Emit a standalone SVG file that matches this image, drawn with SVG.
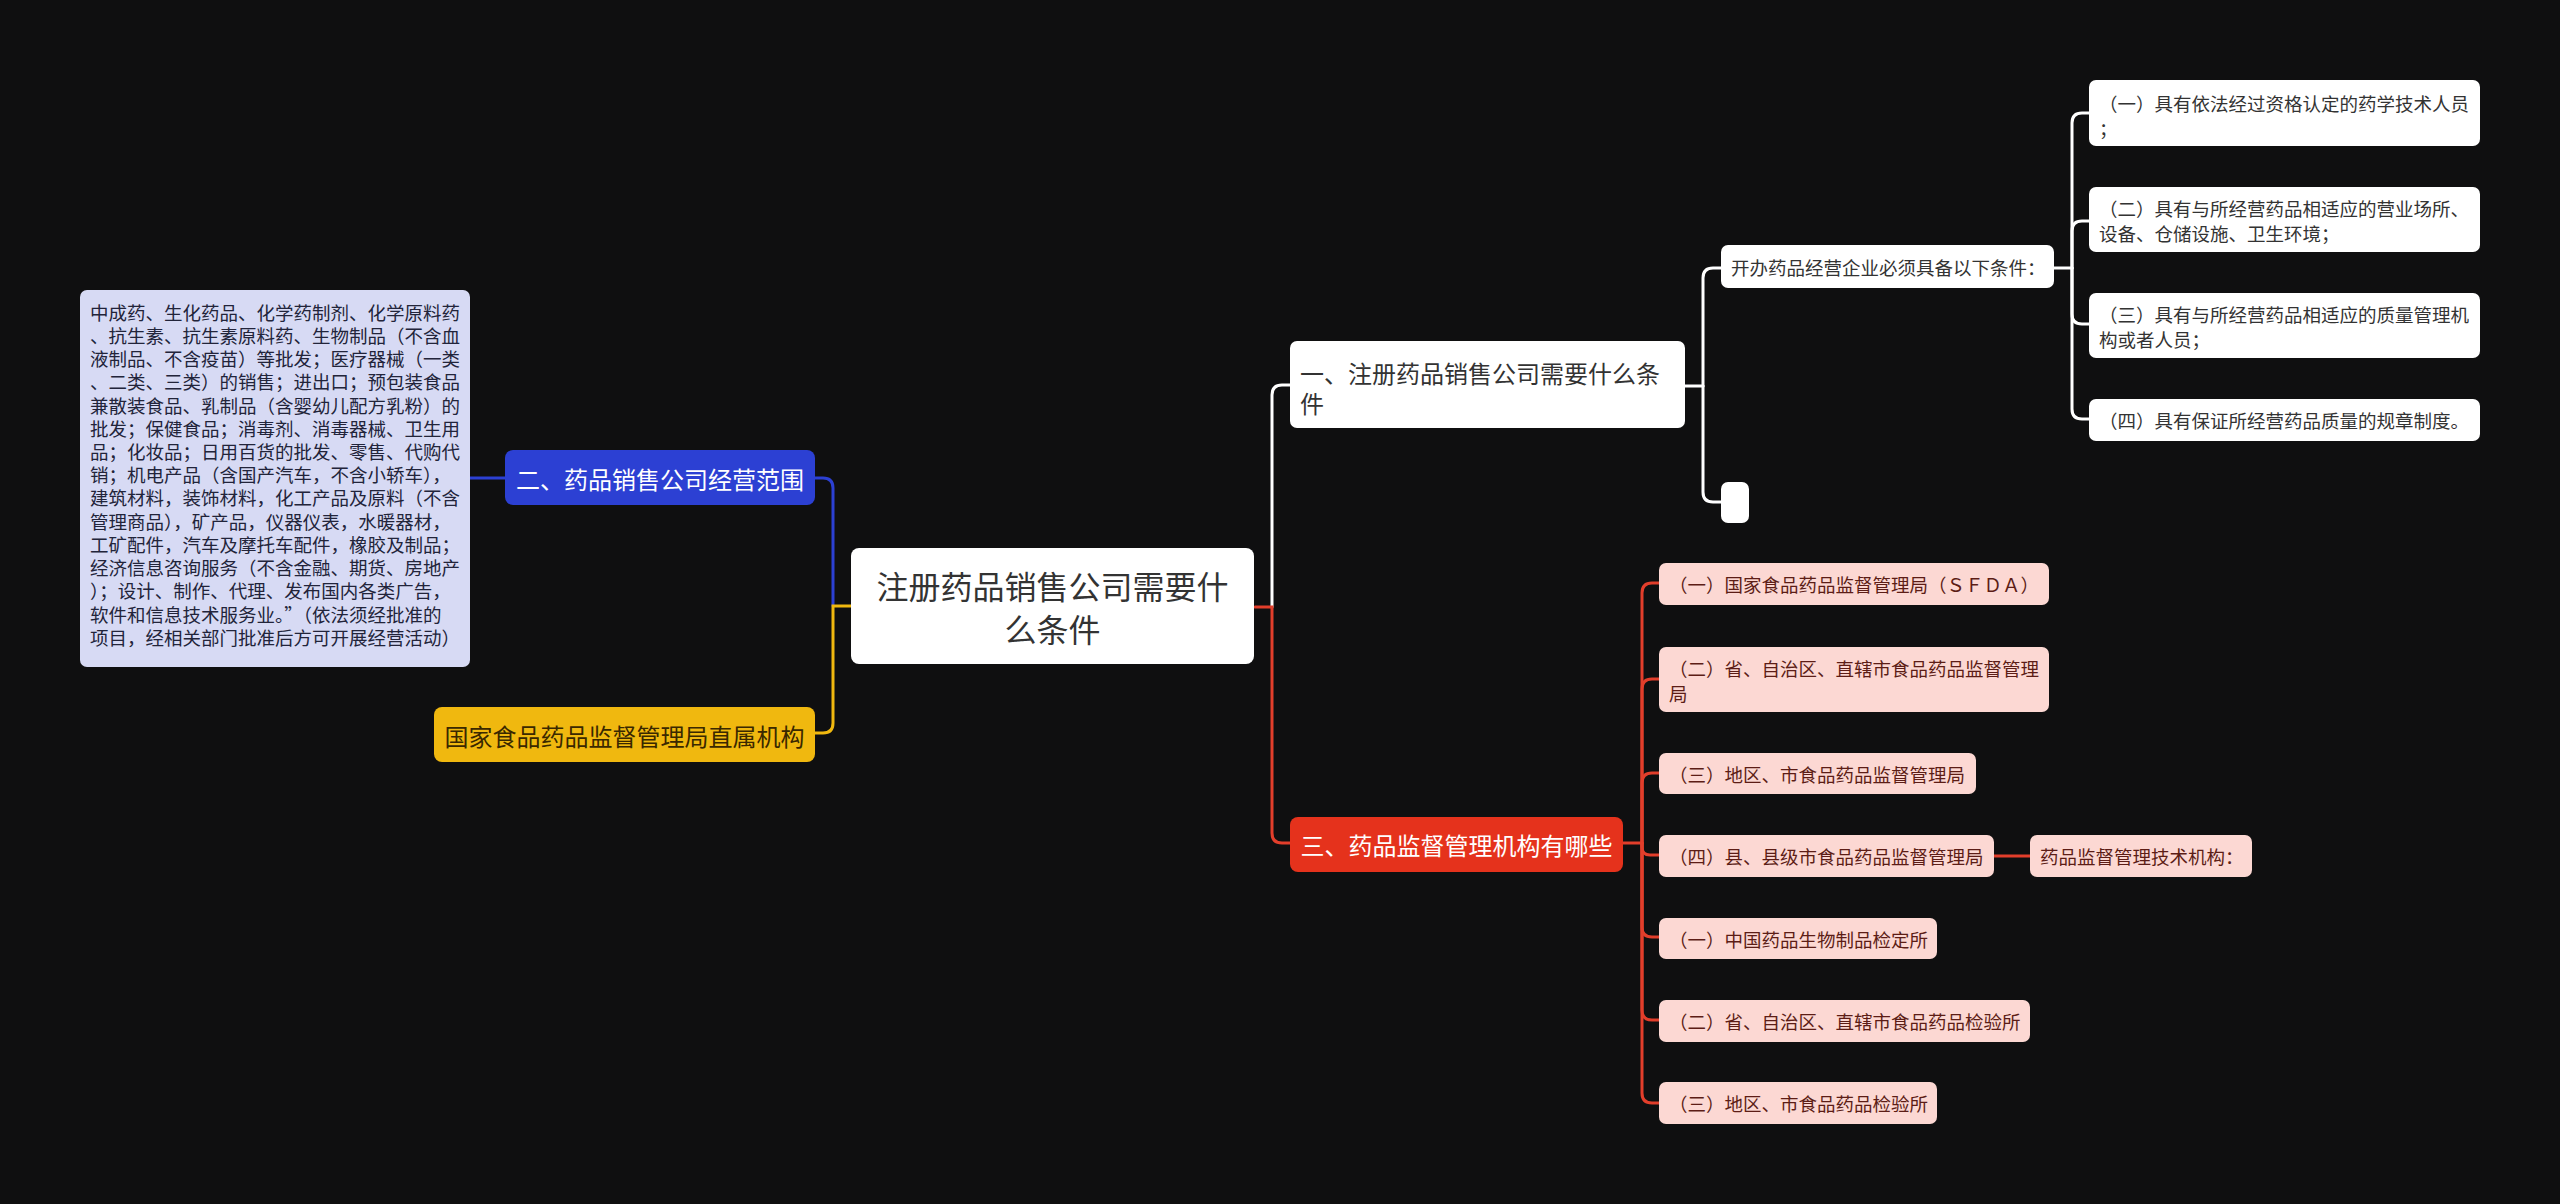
<svg xmlns="http://www.w3.org/2000/svg" width="2560" height="1204" viewBox="0 0 2560 1204">
<style>
text{font-family:"Noto Sans CJK SC","Noto Sans",sans-serif;dominant-baseline:central}
.t18{font-size:18.5px}
.t24{font-size:24px}
.t32{font-size:32px}
.c{stroke-width:3;fill:none;stroke-linecap:round}
.cw{stroke:#ffffff}
.cr{stroke:#e23e2b}
.cb{stroke:#2c40d3}
.cy{stroke:#f0b80f}
.nw{fill:#ffffff}
.np{fill:#fcd8d3}
.tw{fill:#333333}
.tp{fill:#5c1d16}
</style>
<rect width="2560" height="1204" fill="#0f0f10"/>
<g id="connectors">
<path class="c cb" d="M470,478 H505"/>
<path class="c cb" d="M833,606 V488 Q833,478 823,478 H815"/>
<path class="c cy" d="M851,606 H833 V723 Q833,733 823,733 H815"/>
<path class="c cw" d="M1272,607 V395 Q1272,385 1282,385 H1290"/>
<path class="c cr" d="M1255,607 H1272 V833 Q1272,843 1282,843 H1290"/>
<path class="c cw" d="M1685,386 H1703"/>
<path class="c cw" d="M1703,386 V278 Q1703,268 1713,268 H1721"/>
<path class="c cw" d="M1703,386 V492 Q1703,502 1713,502 H1721"/>
<path class="c cw" d="M2054,268 H2072"/>
<path class="c cw" d="M2072,268 V123 Q2072,113 2082,113 H2089"/>
<path class="c cw" d="M2072,268 V231 Q2072,221 2082,221 H2089"/>
<path class="c cw" d="M2072,268 V314 Q2072,324 2082,324 H2089"/>
<path class="c cw" d="M2072,268 V409 Q2072,419 2082,419 H2089"/>
<path class="c cr" d="M1623,843 H1642"/>
<path class="c cr" d="M1642,843 V593 Q1642,583 1652,583 H1659"/>
<path class="c cr" d="M1642,843 V689 Q1642,679 1652,679 H1659"/>
<path class="c cr" d="M1642,843 V783 Q1642,773 1652,773 H1659"/>
<path class="c cr" d="M1642,843 V847 Q1642,855 1650,855 H1659"/>
<path class="c cr" d="M1642,843 V927 Q1642,937 1652,937 H1659"/>
<path class="c cr" d="M1642,843 V1010 Q1642,1020 1652,1020 H1659"/>
<path class="c cr" d="M1642,843 V1093 Q1642,1103 1652,1103 H1659"/>
<path class="c cr" d="M1994,856 H2030"/>
</g>
<g id="root">
<rect x="851" y="548" width="403" height="116" rx="8" class="nw"/>
<text x="1052.5" y="585" text-anchor="middle" class="t32 tw">注册药品销售公司需要什</text>
<text x="1052.5" y="628" text-anchor="middle" class="t32 tw">么条件</text>
</g>
<g id="scope-detail">
<rect x="80" y="290" width="390" height="377" rx="7" fill="#d7daf4"/>
<g class="t18" fill="#22243a">
<text x="90" y="311.7">中成药、生化药品、化学药制剂、化学原料药</text>
<text x="90" y="334.9">、抗生素、抗生素原料药、生物制品（不含血</text>
<text x="90" y="358.1">液制品、不含疫苗）等批发；医疗器械（一类</text>
<text x="90" y="381.3">、二类、三类）的销售；进出口；预包装食品</text>
<text x="90" y="404.5">兼散装食品、乳制品（含婴幼儿配方乳粉）的</text>
<text x="90" y="427.8">批发；保健食品；消毒剂、消毒器械、卫生用</text>
<text x="90" y="451.0">品；化妆品；日用百货的批发、零售、代购代</text>
<text x="90" y="474.2">销；机电产品（含国产汽车，不含小轿车），</text>
<text x="90" y="497.4">建筑材料，装饰材料，化工产品及原料（不含</text>
<text x="90" y="520.6">管理商品），矿产品，仪器仪表，水暖器材，</text>
<text x="90" y="543.8">工矿配件，汽车及摩托车配件，橡胶及制品；</text>
<text x="90" y="567.0">经济信息咨询服务（不含金融、期货、房地产</text>
<text x="90" y="590.3">）；设计、制作、代理、发布国内各类广告，</text>
<text x="90" y="613.5">软件和信息技术服务业。”（依法须经批准的</text>
<text x="90" y="636.7">项目，经相关部门批准后方可开展经营活动）</text>
</g>
</g>
<g id="scope">
<rect x="505" y="450" width="310" height="55" rx="8" fill="#2c40d3"/>
<text x="660" y="478" text-anchor="middle" class="t24" fill="#ffffff">二、药品销售公司经营范围</text>
</g>
<g id="direct-org">
<rect x="434" y="707" width="381" height="55" rx="8" fill="#f0b80f"/>
<text x="624.5" y="735" text-anchor="middle" class="t24" fill="#3a2800">国家食品药品监督管理局直属机构</text>
</g>
<g id="conditions">
<rect x="1290" y="341" width="395" height="87" rx="7" class="nw"/>
<text x="1300" y="372" class="t24 tw">一、注册药品销售公司需要什么条</text>
<text x="1300" y="402" class="t24 tw">件</text>
</g>
<g id="must-have">
<rect x="1721" y="245" width="333" height="43" rx="7" class="nw"/>
<text x="1731" y="267" class="t18 tw">开办药品经营企业必须具备以下条件：</text>
</g>
<g id="empty-node">
<rect x="1721" y="482" width="28" height="41" rx="7" class="nw"/>
</g>
<g id="cond-1">
<rect x="2089" y="80" width="391" height="66" rx="7" class="nw"/>
<text x="2099" y="103" class="t18 tw">（一）具有依法经过资格认定的药学技术人员</text>
<text x="2099" y="127.5" class="t18 tw">；</text>
</g>
<g id="cond-2">
<rect x="2089" y="187" width="391" height="65" rx="7" class="nw"/>
<text x="2099" y="208" class="t18 tw">（二）具有与所经营药品相适应的营业场所、</text>
<text x="2099" y="232.5" class="t18 tw">设备、仓储设施、卫生环境；</text>
</g>
<g id="cond-3">
<rect x="2089" y="293" width="391" height="65" rx="7" class="nw"/>
<text x="2099" y="314" class="t18 tw">（三）具有与所经营药品相适应的质量管理机</text>
<text x="2099" y="338.5" class="t18 tw">构或者人员；</text>
</g>
<g id="cond-4">
<rect x="2089" y="399" width="391" height="42" rx="7" class="nw"/>
<text x="2099" y="420" class="t18 tw">（四）具有保证所经营药品质量的规章制度。</text>
</g>
<g id="agencies">
<rect x="1290" y="817" width="333" height="55" rx="8" fill="#e5321c"/>
<text x="1456.5" y="844" text-anchor="middle" class="t24" fill="#ffffff">三、药品监督管理机构有哪些</text>
</g>
<g id="agency-1">
<rect x="1659" y="563" width="390" height="42" rx="7" class="np"/>
<text x="1669" y="584" class="t18 tp">（一）国家食品药品监督管理局（ＳＦＤＡ）</text>
</g>
<g id="agency-2">
<rect x="1659" y="647" width="390" height="65" rx="7" class="np"/>
<text x="1669" y="668" class="t18 tp">（二）省、自治区、直辖市食品药品监督管理</text>
<text x="1669" y="692.5" class="t18 tp">局</text>
</g>
<g id="agency-3">
<rect x="1659" y="753" width="317" height="41" rx="7" class="np"/>
<text x="1669" y="773.5" class="t18 tp">（三）地区、市食品药品监督管理局</text>
</g>
<g id="agency-4">
<rect x="1659" y="835" width="335" height="42" rx="7" class="np"/>
<text x="1669" y="856" class="t18 tp">（四）县、县级市食品药品监督管理局</text>
</g>
<g id="tech-org">
<rect x="2030" y="835" width="222" height="42" rx="7" class="np"/>
<text x="2040" y="856" class="t18 tp">药品监督管理技术机构：</text>
</g>
<g id="inst-1">
<rect x="1659" y="918" width="278" height="41" rx="7" class="np"/>
<text x="1669" y="938.5" class="t18 tp">（一）中国药品生物制品检定所</text>
</g>
<g id="inst-2">
<rect x="1659" y="1000" width="371" height="42" rx="7" class="np"/>
<text x="1669" y="1021" class="t18 tp">（二）省、自治区、直辖市食品药品检验所</text>
</g>
<g id="inst-3">
<rect x="1659" y="1082" width="278" height="42" rx="7" class="np"/>
<text x="1669" y="1103" class="t18 tp">（三）地区、市食品药品检验所</text>
</g>
</svg>
